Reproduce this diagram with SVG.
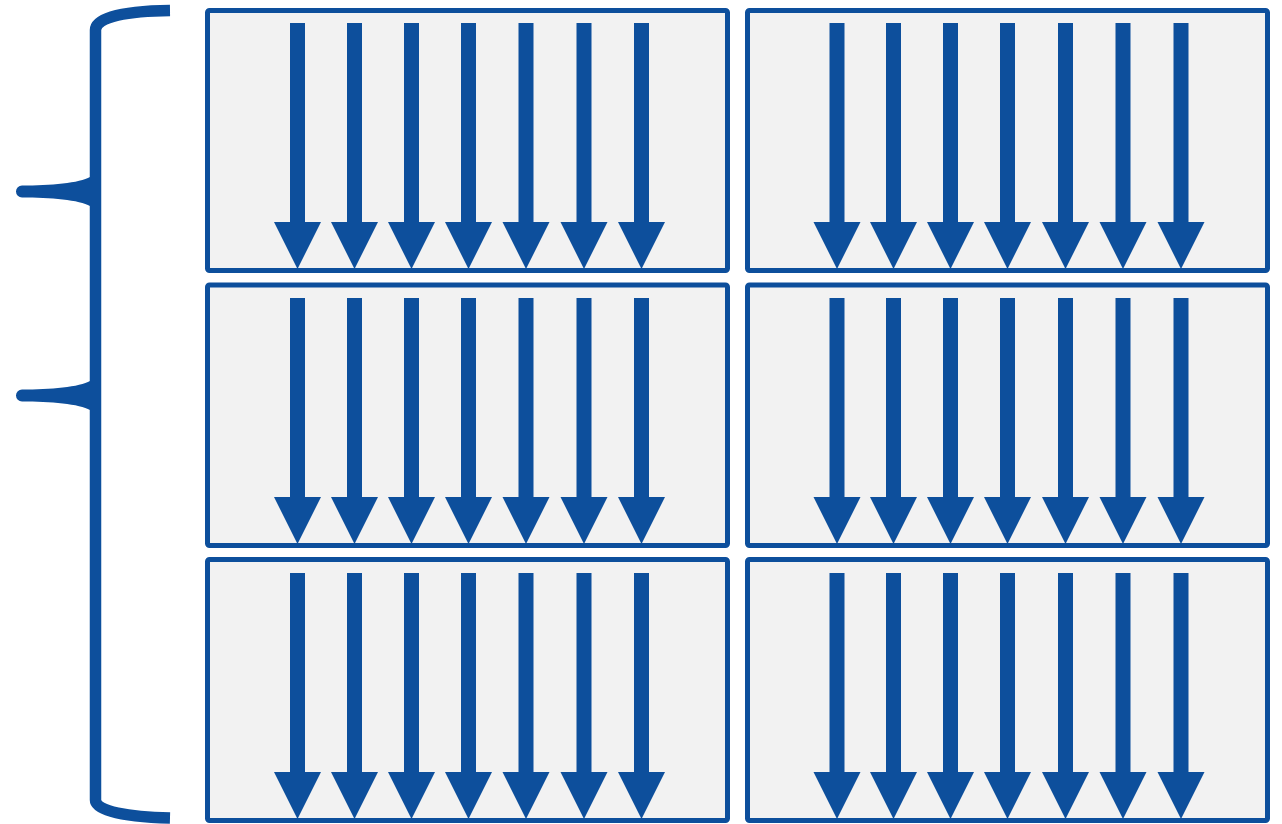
<svg xmlns="http://www.w3.org/2000/svg" xmlns:xlink="http://www.w3.org/1999/xlink" width="1282" height="824" viewBox="0 0 1282 824">
<style>
.box{fill:#f2f2f2;stroke:#0d4f9c;stroke-width:5}
.ar{fill:#0d4f9c}
.br{fill:none;stroke:#0d4f9c;stroke-width:11.5}
.tick{fill:#0d4f9c}
</style>
<defs>
<g id="arrow"><rect x="-7.5" y="0" width="15" height="201"/><polygon points="-23.5,199 23.5,199 0,246"/></g>
<g id="rowL" class="ar">
<use xlink:href="#arrow" x="297.5"/><use xlink:href="#arrow" x="354.5"/><use xlink:href="#arrow" x="411.5"/><use xlink:href="#arrow" x="468.5"/><use xlink:href="#arrow" x="526"/><use xlink:href="#arrow" x="584"/><use xlink:href="#arrow" x="641.5"/>
</g>
<g id="rowR" class="ar">
<use xlink:href="#arrow" x="837"/><use xlink:href="#arrow" x="893.5"/><use xlink:href="#arrow" x="950.5"/><use xlink:href="#arrow" x="1007.5"/><use xlink:href="#arrow" x="1065.5"/><use xlink:href="#arrow" x="1123"/><use xlink:href="#arrow" x="1181"/>
</g>
</defs>
<rect width="1282" height="824" fill="#ffffff"/>
<g id="bracket">
<path class="br" d="M95.5,30 C95.5,16 130,11 170,10.5 M95.5,30 L95.5,800 C95.5,812 130,817 170,818"/>
<path class="tick" d="M90,177 C80,183 50,185.5 22,185.5 A6,6 0 0 0 22,197.5 C50,197.5 80,200 90,206 Z"/>
<path class="tick" d="M90,381 C80,387 50,389.5 22,389.5 A6,6 0 0 0 22,401.5 C50,401.5 80,404 90,410 Z"/>
</g>
<g id="box-r1-left"><rect class="box" x="207.5" y="10.5" width="520" height="260" rx="2"/><use xlink:href="#rowL" y="23"/></g>
<g id="box-r1-right"><rect class="box" x="747.5" y="10.5" width="520" height="260" rx="2"/><use xlink:href="#rowR" y="23"/></g>
<g id="box-r2-left"><rect class="box" x="207.5" y="285" width="520" height="260.5" rx="2"/><use xlink:href="#rowL" y="298"/></g>
<g id="box-r2-right"><rect class="box" x="747.5" y="285" width="520" height="260.5" rx="2"/><use xlink:href="#rowR" y="298"/></g>
<g id="box-r3-left"><rect class="box" x="207.5" y="559.5" width="520" height="261" rx="2"/><use xlink:href="#rowL" y="573"/></g>
<g id="box-r3-right"><rect class="box" x="747.5" y="559.5" width="520" height="261" rx="2"/><use xlink:href="#rowR" y="573"/></g>
</svg>
